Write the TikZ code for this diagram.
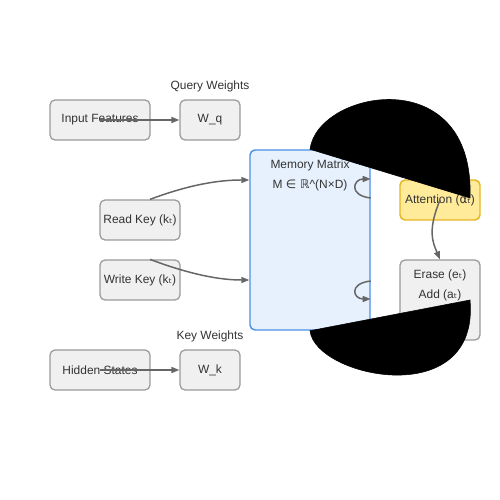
\documentclass[tikz,border=0pt]{standalone}
\usepackage{fontspec}
\setmainfont{Liberation Sans}
\newfontfamily\symf{DejaVu Sans}
\usepackage{tikz}
\usetikzlibrary{calc,arrows.meta,positioning}
\definecolor{boxfill}{HTML}{F0F0F0}
\definecolor{boxline}{HTML}{999999}
\definecolor{memfill}{HTML}{E6F1FD}
\definecolor{memline}{HTML}{4A90E2}
\definecolor{attfill}{HTML}{FFEB99}
\definecolor{attline}{HTML}{E6B422}
\definecolor{txtcol}{HTML}{333333}
\definecolor{conncol}{HTML}{666666}
\newcommand{\sub}[1]{{\symf #1}}

\begin{document}
\begin{tikzpicture}[
    font=\fontsize{6.8}{11.4}\selectfont, text=txtcol,
    box/.style={draw=boxline, fill=boxfill, rounded corners=1mm, line width=0.7pt, minimum height=0.8cm, inner sep=0pt},
    membox/.style={draw=memline, fill=memfill, rounded corners=1mm, line width=0.8pt, minimum width=2.4cm, minimum height=3.6cm},
    attbox/.style={box, draw=attline, fill=attfill, line width=0.8pt},
    lbl/.style={inner sep=0pt, align=center},
    conn/.style={draw=conncol, line width=0.85pt, -{Triangle[length=1.6mm,width=1.2mm]}},
    blob/.style={fill=black, draw=black, line width=0.3pt}
  ]
  \useasboundingbox (0,0) rectangle (10,10);

  \node [box, minimum width=2cm] (infeat) at (2,7.6) {Input Features};
  \node [box, minimum width=1.2cm] (wq) at (4.2,7.6) {W\_q};
  \node [lbl] (qlbl) at (4.2,8.28) {Query Weights};

  \node [box, minimum width=1.6cm] (readkey) at (2.8,5.6) {Read Key (k\sub{ₜ})};
  \node [box, minimum width=1.6cm] (writekey) at (2.8,4.4) {Write Key (k\sub{ₜ})};

  \node [box, minimum width=2cm] (hidden) at (2,2.6) {Hidden States};
  \node [box, minimum width=1.2cm] (wk) at (4.2,2.6) {W\_k};
  \node [lbl] (klbl) at (4.2,3.28) {Key Weights};

  \node [membox] (mem) at (6.2,5.2) {};
  \node [lbl, below=0.2cm of mem.north] (memtxt) {Memory Matrix\\M \sub{∈ ℝ}\^{}(N×D)};

  \node [attbox, minimum width=1.6cm] (att) at (8.8,6.0) {Attention (\sub{α}\sub{ₜ})};
  \node [box, minimum width=1.6cm, minimum height=1.6cm] (erase) at (8.8,4.0) {};
  \node [lbl, below=0.2cm of erase.north] (erasetxt) {Erase (e\sub{ₜ})\\Add (a\sub{ₜ})};

  \draw [conn] (infeat.center) -- (wq.west);
  \draw [conn] (hidden.center) -- (wk.west);
  \draw [conn] ([xshift=0.2cm]readkey.north) .. controls +(0.8,0.3) and +(-0.6,0) .. ([yshift=1.2cm]mem.west);
  \draw [conn] ([xshift=0.2cm]writekey.north) .. controls +(0.8,-0.3) and +(-0.6,0) .. ([yshift=-0.8cm]mem.west);
  \draw [conn] ([yshift=0.84cm]mem.east) .. controls +(-0.45,0.05) and +(-0.35,0) .. ([yshift=1.22cm]mem.east);
  \draw [conn] ([yshift=-0.82cm]mem.east) .. controls +(-0.45,-0.05) and +(-0.35,0) .. ([yshift=-1.18cm]mem.east);
  \draw [conn] (att.center) .. controls +(-0.25,-0.6) and +(-0.15,0.35) .. (erase.north);

  \path [blob] (mem.north) .. controls (6.35,8.2) and (9.5,8.8) .. ([shift={(0.6,0.04)}]att.center) -- cycle;
  \path [blob] (mem.south) .. controls (6.3,2.45) and (9.6,1.75) .. ([xshift=0.6cm]erase.center) -- cycle;
\end{tikzpicture}
\end{document}
